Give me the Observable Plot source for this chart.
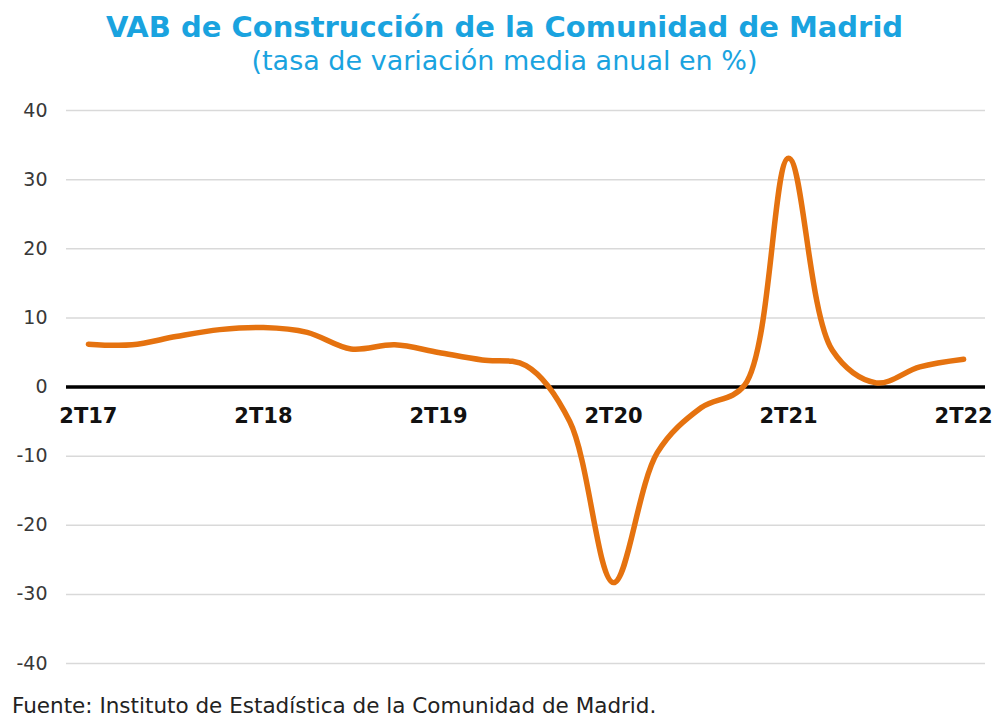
<!DOCTYPE html>
<html><head><meta charset="utf-8">
<script src="https://cdn.jsdelivr.net/npm/d3@7"></script>
<script src="https://cdn.jsdelivr.net/npm/@observablehq/plot@0.6"></script>
<style>
body{margin:0;background:#fff;width:995px;}
#head{height:88px;position:relative;text-align:center;color:#1aa3df;}
#title{position:absolute;left:14px;right:0;top:10px;font-family:"DejaVu Sans",Verdana,sans-serif;font-weight:bold;font-size:29px;line-height:34px;}
#subtitle{position:absolute;left:14px;right:0;top:45px;font-family:"DejaVu Sans",Verdana,sans-serif;font-size:27px;line-height:32px;}
#caption{font-family:"DejaVu Sans",Verdana,sans-serif;font-size:21.5px;line-height:36px;color:#222;padding-left:12px;}
#chart svg{display:block;}
</style></head><body>
<div id="head">
<div id="title">VAB de Construcción de la Comunidad de Madrid</div>
<div id="subtitle">(tasa de variación media anual en %)</div>
</div>
<div id="chart"></div>
<div id="caption">Fuente: Instituto de Estadística de la Comunidad de Madrid.</div>
<script>
const quarters = ["2T17","3T17","4T17","1T18","2T18","3T18","4T18","1T19","2T19","3T19","4T19",
                  "1T20","2T20","3T20","4T20","1T21","2T21","3T21","4T21","1T22","2T22"];
const values = [6.2, 6.1, 7.3, 8.3, 8.6, 7.9, 5.5, 6.1, 5.0, 3.9, 3.1,
                -5.0, -28.3, -9.5, -3.0, 0.3, 33.1, 5.3, 0.6, 2.9, 4.0];
const xTickLabels = ["2T17","2T18","2T19","2T20","2T21","2T22"];
const yTicks = [-40,-30,-20,-10,0,10,20,30,40];

const data = quarters.map((q, i) => ({q, v: values[i]}));

const chart = Plot.plot({
  width: 995,
  height: 600,
  marginTop: 22,
  marginBottom: 25,
  marginLeft: 66,
  marginRight: 10,
  style: {fontFamily: "'DejaVu Sans', Verdana, sans-serif", background: "#fff"},
  x: {type: "point", domain: quarters, padding: 0.5, round: false, axis: null},
  y: {domain: [-40, 40], axis: null},
  marks: [
    Plot.ruleY(yTicks.filter(d => d !== 0), {stroke: "#d9d9d9", strokeWidth: 1.5}),
    Plot.ruleY([0], {stroke: "#000", strokeWidth: 3.5}),
    Plot.axisY(yTicks, {tickSize: 0, tickPadding: 19, fontSize: 19, fill: "#383838", label: null, tickFormat: d => String(d)}),
    Plot.line(data, {x: "q", y: "v", curve: "catmull-rom", stroke: "#e5720f", strokeWidth: 5.5, strokeLinecap: "round", strokeLinejoin: "round"}),
    Plot.text(xTickLabels, {x: d => d, y: () => 0, dy: 29, fontWeight: "bold", fontSize: 21, fill: "#111"})
  ]
});
document.getElementById("chart").appendChild(chart);
</script>
</body></html>
